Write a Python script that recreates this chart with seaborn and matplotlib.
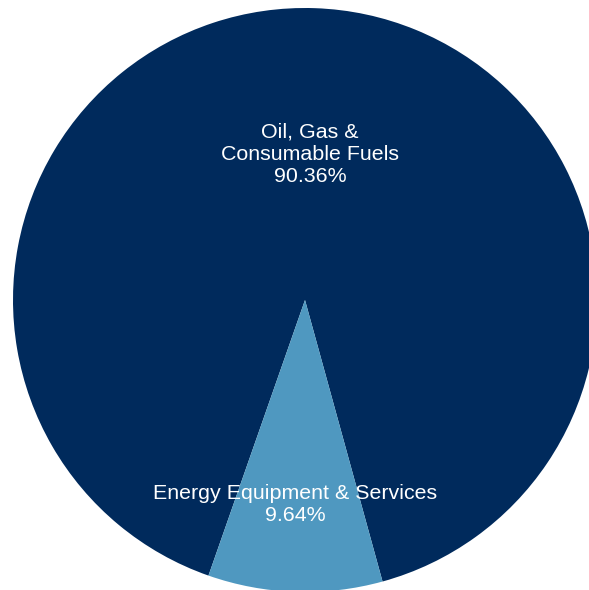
import numpy as np
import matplotlib
matplotlib.use("Agg")
import matplotlib.pyplot as plt
import seaborn as sns

# values
sectors = ["Oil, Gas &\nConsumable Fuels", "Energy Equipment & Services"]
shares = [90.36, 9.64]
colors = ["#002A5C", "#4F98C0"]
label_dist = [0.5, 0.7]
label_shift = [0.0, -0.01]

sns.set_style("white")
plt.rcParams["font.family"] = ["Liberation Sans", "DejaVu Sans"]

fig = plt.figure(figsize=(5.89, 5.90), dpi=100)
ax = fig.add_axes([13 / 589, -2 / 590, 584 / 589, 584 / 590])

wedges, _ = ax.pie(shares, colors=colors, startangle=285.4, counterclock=True,
                   radius=1.0, wedgeprops=dict(linewidth=0))

for w, name, pct, d, dx in zip(wedges, sectors, shares, label_dist, label_shift):
    mid = np.deg2rad((w.theta1 + w.theta2) / 2)
    ax.text(d * np.cos(mid) + dx, d * np.sin(mid), f"{name}\n{pct:.2f}%",
            ha="center", va="center", color="white", fontsize=15.4,
            linespacing=1.22)

ax.set_xlim(-1, 1)
ax.set_ylim(-1, 1)
ax.set_aspect("equal")
ax.axis("off")

fig.savefig("out.png", dpi=100)
